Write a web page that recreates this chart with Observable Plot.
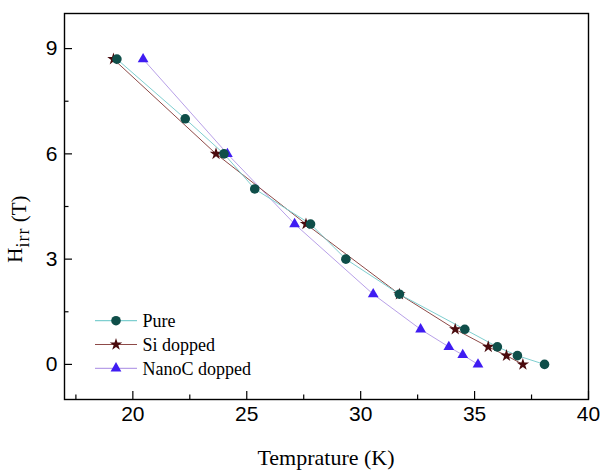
<!DOCTYPE html>
<html><head><meta charset="utf-8">
<script src="https://cdn.jsdelivr.net/npm/d3@7"></script>
<script src="https://cdn.jsdelivr.net/npm/@observablehq/plot@0.6"></script>
<style>body{margin:0;background:#fff}</style>
</head><body><div id="chart"></div>
<script>
// Data
const seriesNames = ["Pure", "Si dopped", "NanoC dopped"];
const pureTemp = [19.3, 22.3, 24.0, 25.35, 27.8, 29.35, 31.7, 34.57, 36.0, 36.88, 38.07];
const pureHirr = [8.7, 7.0, 6.0, 5.0, 4.0, 3.0, 2.0, 1.0, 0.5, 0.25, 0.0];
const siTemp = [19.15, 23.65, 27.6, 31.7, 34.15, 35.6, 36.4, 37.12];
const siHirr = [8.7, 6.0, 4.0, 2.0, 1.0, 0.5, 0.25, 0.0];
const nanoTemp = [20.45, 24.15, 27.1, 30.55, 32.63, 33.87, 34.48, 35.15];
const nanoHirr = [8.7, 6.0, 4.0, 2.0, 1.0, 0.5, 0.27, 0.0];
const xTicks = [20, 25, 30, 35, 40];
const xMinorTicks = [17.5, 22.5, 27.5, 32.5, 37.5];
const yTicks = [0, 3, 6, 9];
const yMinorTicks = [1.5, 4.5, 7.5];

const styles = {
  "Pure": {line: "#7fcfd0", fill: "#0f4e49", symbol: "circle", r: 4.8},
  "Si dopped": {line: "#8e4a48", fill: "#4a0b0e", symbol: "star", r: 3.9},
  "NanoC dopped": {line: "#b8a0e8", fill: "#3f1cf2", symbol: "triangle", r: 4.0}
};
const seriesData = {
  "Pure": pureTemp.map((t, i) => ({series: "Pure", temp: t, hirr: pureHirr[i]})),
  "Si dopped": siTemp.map((t, i) => ({series: "Si dopped", temp: t, hirr: siHirr[i]})),
  "NanoC dopped": nanoTemp.map((t, i) => ({series: "NanoC dopped", temp: t, hirr: nanoHirr[i]}))
};

const drawOrder = ["NanoC dopped", "Si dopped", "Pure"];
const marks = [];
for (const name of drawOrder) {
  const s = styles[name];
  marks.push(Plot.line(seriesData[name], {x: "temp", y: "hirr", stroke: s.line, strokeWidth: 1}));
}
for (const name of drawOrder) {
  const s = styles[name];
  marks.push(Plot.dot(seriesData[name], {x: "temp", y: "hirr", fill: s.fill, stroke: "none", symbol: s.symbol, r: s.r}));
}

const chart = Plot.plot({
  width: 600,
  height: 470,
  marginLeft: 64,
  marginRight: 12,
  marginTop: 13,
  marginBottom: 71,
  style: {fontFamily: "Liberation Sans, Arial, sans-serif", fontSize: "21px", color: "black", background: "white"},
  x: {domain: [17, 40], axis: null},
  y: {domain: [-1, 10], axis: null},
  marks: [
    Plot.text(xTicks, {x: d => d, frameAnchor: "bottom", dy: 15, lineAnchor: "middle", fontSize: 21, text: d => String(d)}),
    Plot.text(yTicks, {y: d => d, frameAnchor: "left", dx: -7, textAnchor: "end", lineAnchor: "middle", fontSize: 21, text: d => String(d)}),
    Plot.axisX(xTicks, {tickSize: -8, text: null, label: null, strokeWidth: 1.2}),
    Plot.axisX(xMinorTicks, {tickSize: -4.5, text: null, label: null, strokeWidth: 1.2}),
    Plot.axisY(yTicks, {tickSize: -8, text: null, label: null, strokeWidth: 1.2}),
    Plot.axisY(yMinorTicks, {tickSize: -4.5, text: null, label: null, strokeWidth: 1.2}),
    ...marks,
    Plot.frame({stroke: "black", strokeWidth: 1.4})
  ]
});
document.getElementById("chart").appendChild(chart);

const svg = d3.select(chart);
// axis titles
svg.append("text")
  .attr("x", 326).attr("y", 465)
  .attr("text-anchor", "middle")
  .style("font-family", "Liberation Serif, Times New Roman, serif")
  .style("font-size", "22px")
  .text("Temprature (K)");
const yt = svg.append("text")
  .attr("transform", "translate(22,229) rotate(-90)")
  .attr("text-anchor", "middle")
  .style("font-family", "Liberation Serif, Times New Roman, serif")
  .style("font-size", "21px");
yt.append("tspan").text("H");
yt.append("tspan").attr("dy", 7).style("font-size", "18px").style("letter-spacing", "1px").text("irr");
yt.append("tspan").attr("dy", -3).text(" (T)");

// legend
const leg = svg.append("g");
seriesNames.forEach((name, i) => {
  const s = styles[name];
  const cy = 320.7 + i * 23.8;
  leg.append("line").attr("x1", 95).attr("x2", 137).attr("y1", cy).attr("y2", cy)
    .attr("stroke", s.line).attr("stroke-width", 1.2);
  const symType = s.symbol === "circle" ? d3.symbolCircle : s.symbol === "star" ? d3.symbolStar : d3.symbolTriangle;
  leg.append("path").attr("transform", `translate(116,${cy})`)
    .attr("d", d3.symbol(symType, s.r * s.r * Math.PI)())
    .attr("fill", s.fill);
  leg.append("text").attr("x", 142.5).attr("y", cy + 6.5)
    .attr("text-anchor", "start")
    .style("font-family", "Liberation Serif, Times New Roman, serif")
    .style("font-size", "18px")
    .text(name);
});
</script>
</body></html>
